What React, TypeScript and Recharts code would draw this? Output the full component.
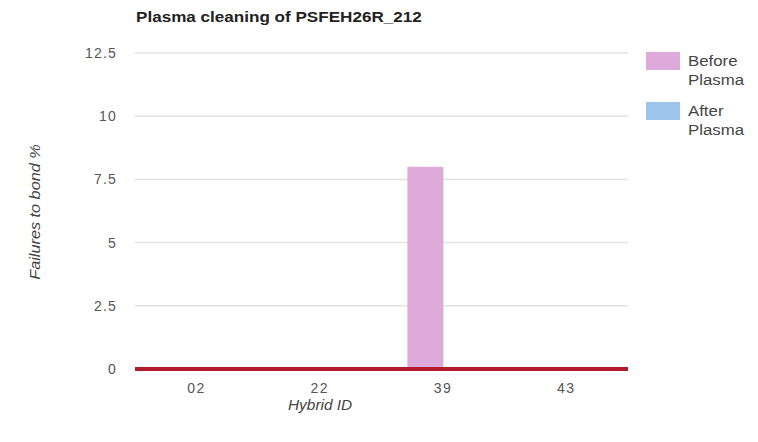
import React from "react";
import { BarChart, Bar, XAxis, YAxis, CartesianGrid, ReferenceLine } from "recharts";

const categories = ["02", "22", "39", "43"];
const beforePlasma = [0, 0, 8, 0];
const afterPlasma = [0, 0, 0, 0];
const yTicks = [0, 2.5, 5, 7.5, 10, 12.5];
const seriesNames = ["Before Plasma", "After Plasma"];
const seriesColors = ["#DDAADA", "#9FC4EC"];

const data = categories.map((c, i) => ({
  id: c,
  before: beforePlasma[i],
  after: afterPlasma[i],
}));

const FONT = "Arial, 'Liberation Sans', Helvetica, sans-serif";

const stretch = (sx: number): React.CSSProperties => ({
  display: "inline-block",
  transform: `scaleX(${sx})`,
  transformOrigin: "left center",
  whiteSpace: "nowrap",
});

export default function App() {
  return (
    <div style={{ position: "absolute", left: 0, top: 0, width: 758, height: 442, background: "#fff", fontFamily: FONT }}>
      <BarChart
        width={758}
        height={442}
        data={data}
        margin={{ top: 53, right: 130, bottom: 43, left: 75 }}
        barCategoryGap="21%"
        barGap={0}
      >
        <CartesianGrid vertical={false} stroke="#e2e2e2" strokeWidth={1.5} />
        <XAxis
          dataKey="id"
          axisLine={false}
          tickLine={false}
          tickMargin={8}
          height={30}
          tick={{ fill: "#555", fontSize: 14, fontFamily: FONT, letterSpacing: 1.5 }}
        />
        <YAxis
          domain={[0, 12.5]}
          ticks={yTicks}
          axisLine={false}
          tickLine={false}
          tickMargin={12}
          width={60}
          tick={{ fill: "#555", fontSize: 14, fontFamily: FONT, letterSpacing: 1.2 }}
        />
        <Bar dataKey="before" name={seriesNames[0]} fill={seriesColors[0]} isAnimationActive={false} />
        <Bar dataKey="after" name={seriesNames[1]} fill={seriesColors[1]} isAnimationActive={false} />
        <ReferenceLine y={0} stroke="#B01C2E" strokeWidth={4} />
      </BarChart>

      <div style={{ position: "absolute", left: 136, top: 8, fontSize: 14, fontWeight: "bold", color: "#222", lineHeight: "18px" }}>
        <span style={stretch(1.22)}>Plasma cleaning of PSFEH26R_212</span>
      </div>

      <div style={{ position: "absolute", left: 288, top: 396, fontSize: 14, fontStyle: "italic", color: "#444", lineHeight: "18px" }}>
        <span style={stretch(1.1)}>Hybrid ID</span>
      </div>

      <div
        style={{
          position: "absolute",
          left: 35,
          top: 212,
          transform: "translate(-50%, -50%) rotate(-90deg) scaleX(1.16)",
          whiteSpace: "nowrap",
          fontSize: 14,
          fontStyle: "italic",
          color: "#444",
          lineHeight: "18px",
        }}
      >
        Failures to bond %
      </div>

      {seriesNames.map((name, i) => {
        const words = name.split(" ");
        return (
          <div key={name} style={{ position: "absolute", left: 646, top: 52 + i * 50 }}>
            <div style={{ position: "absolute", left: 0, top: 0, width: 34, height: 18, background: seriesColors[i] }} />
            <div style={{ position: "absolute", left: 42, top: 0, fontSize: 14, lineHeight: "19px", color: "#444" }}>
              <span style={stretch(1.2)}>{words[0]}</span>
              <br />
              <span style={stretch(1.2)}>{words.slice(1).join(" ")}</span>
            </div>
          </div>
        );
      })}
    </div>
  );
}
